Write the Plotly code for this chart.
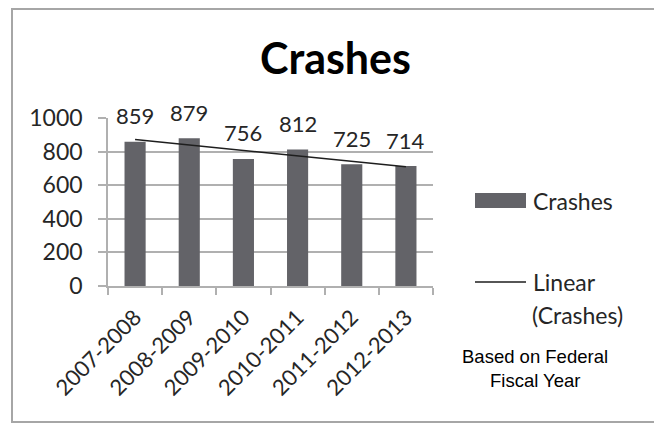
import numpy as np
import plotly.graph_objects as go

categories = ["2007-2008", "2008-2009", "2009-2010", "2010-2011", "2011-2012", "2012-2013"]
crashes = [859, 879, 756, 812, 725, 714]
y_ticks = [0, 200, 400, 600, 800, 1000]

W, H = 662, 425
OFF = 8  # page body margin offset
L, R, T, B = 108 - OFF, 433 - OFF, 118 - OFF, 286 - OFF  # plot area in figure pixels

def px(x):
    return (x - OFF - L) / (R - L)

def py(y):
    return (B - (y - OFF)) / (B - T)

# linear trend line (least squares), as Excel's "Linear (Crashes)"
xi = np.arange(1, len(crashes) + 1)
slope, intercept = np.polyfit(xi, crashes, 1)
trend = slope * xi + intercept

FONT = "Lato"
TXT = "#262626"
BAR = "#636368"
GRID = "#b0b0b0"

fig = go.Figure()
fig.add_trace(go.Bar(x=categories, y=crashes, name="Crashes",
                     marker=dict(color=BAR, line=dict(width=0)),
                     width=0.39, showlegend=False))
fig.add_trace(go.Scatter(x=categories, y=trend, name="Linear (Crashes)", mode="lines",
                         line=dict(color="#1e1e1e", width=1.6), showlegend=False))

annotations = []
for c, v in zip(categories, crashes):
    annotations.append(dict(x=c, y=v, text=str(v), showarrow=False, yshift=26,
                            xanchor="center", yanchor="middle",
                            font=dict(family=FONT, size=22, color=TXT)))

def txt(x, y, s, size, anchor="center", family=FONT, color=TXT):
    return dict(xref="paper", yref="paper", x=px(x), y=py(y), text=s, showarrow=False,
                xanchor=anchor, yanchor="middle", font=dict(family=family, size=size, color=color))

annotations += [
    txt(335, 58, "<b>Crashes</b>", 43, color="#000000"),
    txt(531, 201, "Crashes", 23, anchor="left"),
    txt(531, 282, "Linear", 23, anchor="left"),
    txt(530, 315, "(Crashes)", 23, anchor="left"),
    txt(535, 356, "Based on Federal", 18.5, family="Liberation Sans, Arial", color="#000000"),
    txt(535, 380, "Fiscal Year", 18.5, family="Liberation Sans, Arial", color="#000000"),
]

shapes = [
    # outer border
    dict(type="rect", xref="paper", yref="paper", x0=px(12), x1=px(657), y0=py(422), y1=py(9),
         line=dict(color="#a6a6a6", width=2), layer="below"),
    # legend swatches
    dict(type="rect", xref="paper", yref="paper", x0=px(475), x1=px(526), y0=py(208), y1=py(193),
         fillcolor=BAR, line=dict(width=0)),
    dict(type="line", xref="paper", yref="paper", x0=px(475), x1=px(526), y0=py(282), y1=py(282),
         line=dict(color="#1e1e1e", width=1.6)),
]

fig.update_layout(
    width=W, height=H,
    margin=dict(l=L, r=W - R, t=T, b=H - B, pad=0),
    paper_bgcolor="white", plot_bgcolor="white",
    showlegend=False,
    annotations=annotations, shapes=shapes,
    xaxis=dict(type="category", tickangle=-45, tickson="boundaries", ticks="outside",
               ticklen=7, tickcolor=GRID, tickwidth=1.5,
               showline=True, linecolor=GRID, linewidth=1.5, ticklabelstandoff=8,
               showgrid=False, tickfont=dict(family=FONT, size=22, color=TXT)),
    yaxis=dict(range=[0, 1000], tickvals=y_ticks, ticks="outside", ticklen=8,
               tickcolor=GRID, tickwidth=1.5, showline=True, linecolor=GRID, linewidth=1.5,
               zeroline=False, showgrid=True, gridcolor=GRID, gridwidth=1.5,
               ticklabelstandoff=11, tickfont=dict(family=FONT, size=23, color=TXT)),
    bargap=0.6,
)

fig.write_html("out.html")
